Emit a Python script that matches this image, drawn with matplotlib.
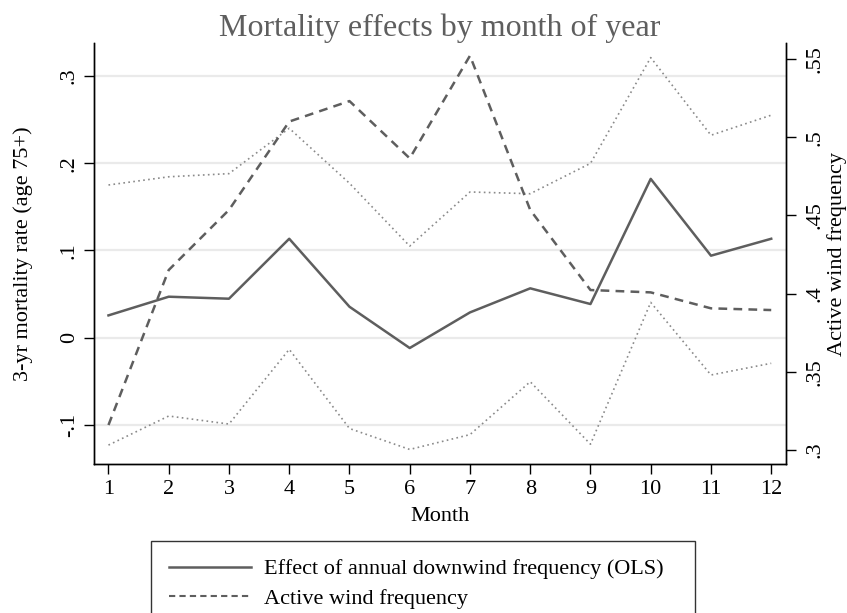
import matplotlib
matplotlib.use("Agg")
import matplotlib.pyplot as plt
from matplotlib.lines import Line2D

plt.rcParams['font.family'] = ['Liberation Serif', 'DejaVu Serif']

months = [1, 2, 3, 4, 5, 6, 7, 8, 9, 10, 11, 12]
effect = [0.0256, 0.047, 0.0447, 0.1134, 0.0355, -0.0118, 0.029, 0.0566, 0.0386, 0.182, 0.094, 0.1134]
ci_upper = [0.175, 0.1844, 0.188, 0.240, 0.177, 0.105, 0.167, 0.165, 0.1998, 0.321, 0.232, 0.255]
ci_lower = [-0.123, -0.0897, -0.0989, -0.0133, -0.104, -0.128, -0.111, -0.0504, -0.122, 0.0405, -0.0427, -0.0293]
active_wind = [0.316, 0.4151, 0.4535, 0.510, 0.5231, 0.4865, 0.5521, 0.4535, 0.4023, 0.4008, 0.3906, 0.3895]

left_ticks = [-0.1, 0, 0.1, 0.2, 0.3]
left_labels = ["-.1", "0", ".1", ".2", ".3"]
right_ticks = [0.3, 0.35, 0.4, 0.45, 0.5, 0.55]
right_labels = [".3", ".35", ".4", ".45", ".5", ".55"]

fig = plt.figure(figsize=(8.47, 6.13), dpi=100)
ax = fig.add_axes([0.111, 0.2426, 0.8166, 0.6877])
ax2 = ax.twinx()

line_col = '#5e5e5e'
ax.plot(months, effect, color=line_col, lw=1.8)
ax.plot(months, ci_upper, color='#8a8a8a', lw=1.2, ls=(0, (1, 2)))
ax.plot(months, ci_lower, color='#8a8a8a', lw=1.2, ls=(0, (1, 2)))
ax2.plot(months, active_wind, color=line_col, lw=1.8, ls=(0, (3.5, 2.5)))

ax.set_xlim(0.76, 12.24)
ax.set_ylim(-0.145, 0.338)
ax2.set_ylim(0.2909, 0.5604)

ax.set_yticks(left_ticks, left_labels, rotation=90, va='center')
ax2.set_yticks(right_ticks, right_labels, rotation=90, va='center')
ax.set_xticks(months)

for t in left_ticks:
    ax.axhline(t, color='#eaeaea', lw=1.6, zorder=0)

for a in (ax, ax2):
    a.spines['top'].set_visible(False)
    for s in a.spines.values():
        s.set_linewidth(1.0)
    a.tick_params(direction='out', length=7, width=1.0, labelsize=16, colors='black', pad=4)
ax2.tick_params(pad=7)

ax.set_xlabel('Month', fontsize=16, labelpad=6)
ax.set_ylabel('3-yr mortality rate (age 75+)', fontsize=16, labelpad=19)
ax2.set_ylabel('Active wind frequency', fontsize=16, rotation=90, labelpad=2)
ax.set_title('Mortality effects by month of year', fontsize=23, color='#5e5e5e', pad=4)

handles = [
    Line2D([], [], color=line_col, lw=1.8),
    Line2D([], [], color=line_col, lw=1.5, ls=(0, (3, 2))),
    Line2D([], [], color='none'),
]
labels = ['Effect of annual downwind frequency (OLS)', 'Active wind frequency', ' ']
leg = fig.legend(handles, labels, loc='upper left',
                 bbox_to_anchor=(151 / 847, 0, (695 - 151) / 847, 1 - 541 / 613),
                 mode='expand', fontsize=16, frameon=True, fancybox=False,
                 handlelength=3.7, borderpad=0.8, labelspacing=0.4, handletextpad=0.6,
                 borderaxespad=0)
leg.get_frame().set_edgecolor('black')
leg.get_frame().set_linewidth(1.0)

fig.savefig('out.png', dpi=100)
